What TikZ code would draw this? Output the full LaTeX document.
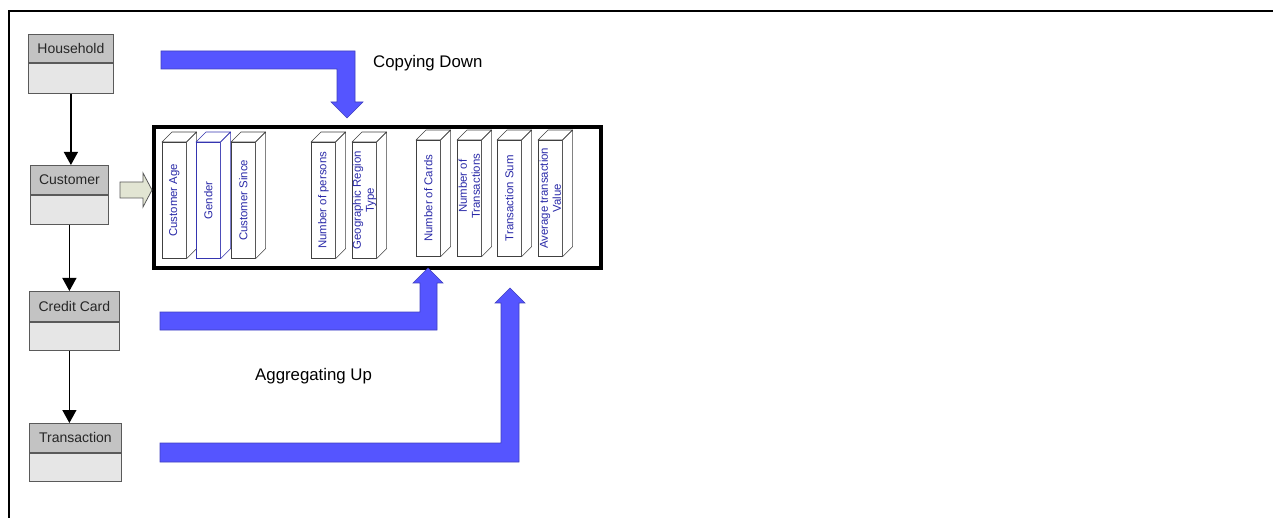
\documentclass[tikz,border=0pt]{standalone}
\usepackage{fontspec}
\setmainfont{Liberation Sans}
\usetikzlibrary{arrows.meta}

\definecolor{flowblue}{HTML}{5555FF}
\definecolor{flowedge}{HTML}{4040C0}
\definecolor{hdrgray}{HTML}{C3C3C3}
\definecolor{bodygray}{HTML}{E6E6E6}
\definecolor{boxedge}{HTML}{5A5A5A}
\definecolor{attrtext}{HTML}{2A2AA8}
\definecolor{attredge}{HTML}{3535B0}
\definecolor{khaki}{HTML}{E2E5D3}

\tikzset{
  hdr/.style={draw=boxedge, fill=hdrgray, line width=0.8pt, inner sep=0pt,
    anchor=north west, font=\fontsize{14}{16}\selectfont, text=black!85},
  bdy/.style={draw=boxedge, fill=bodygray, line width=0.8pt, inner sep=0pt,
    anchor=north west},
  flow/.style={line width=1.3pt, -{Triangle[length=13pt,width=14pt]}},
  face/.style={draw=black!75, fill=white, line width=0.6pt, inner sep=0pt,
    minimum width=24pt, minimum height=116pt, anchor=north west},
  facedge/.style={draw=black!75, fill=white, line width=0.6pt, line join=round},
  coltext/.style={rotate=90, text=attrtext, font=\fontsize{11.4}{13}\selectfont,
    align=center, inner sep=0pt},
  blockarrow/.style={fill=flowblue, draw=flowedge, line width=0.6pt, line join=miter},
  caption/.style={font=\fontsize{16.8}{19}\selectfont, anchor=west, inner sep=0pt},
}

% attribute column drawn as a 3D bar: [face options]{name}{x}{y top}{label}
\newcommand\attrcol[5][]{%
  \node[face,#1] (#2) at (#3,#4) {};
  \draw[facedge,#1] (#2.north west) -- ++(10,-10)
    -- ([shift={(10pt,10pt)}]#2.north east) -- (#2.north east) -- cycle;
  \draw[facedge,#1] (#2.north east) -- ++(10,-10)
    -- ([shift={(10pt,10pt)}]#2.south east) -- (#2.south east) -- cycle;
  \node[coltext] (#2-t) at (#2.center) {#5};
}

\begin{document}
\begin{tikzpicture}[x=1pt, y=-1pt]
\useasboundingbox (0,0) rectangle (1273,518);

% frame
\draw[line width=2.5pt] (9,518) -- (9,11) -- (1273,11);

% entity hierarchy
\node[hdr, minimum width=85pt, minimum height=28pt] (hh) at (28,34) {Household};
\node[bdy, minimum width=85pt, minimum height=30pt] (hhb) at (hh.south west) {};

\node[hdr, minimum width=78pt, minimum height=29pt] (cu) at (30,165) {Customer};
\node[bdy, minimum width=78pt, minimum height=29pt] (cub) at (cu.south west) {};

\node[hdr, minimum width=90pt, minimum height=30pt] (cc) at (29,291) {Credit Card};
\node[bdy, minimum width=90pt, minimum height=28pt] (ccb) at (cc.south west) {};

\node[hdr, minimum width=92pt, minimum height=29pt] (tr) at (29,423) {Transaction};
\node[bdy, minimum width=92pt, minimum height=28pt] (trb) at (tr.south west) {};

\draw[flow] (hhb.south) -- (hhb.south |- cu.north);
\draw[flow] (cub.south) -- (cub.south |- cc.north);
\draw[flow] (ccb.south -| cub.south) -- (cub.south |- tr.north);

% analysis record
\node[draw, line width=4pt, inner sep=0pt, anchor=north west,
      minimum width=447pt, minimum height=141pt] (mb) at (152,125) {};

\attrcol{ca}{162}{142}{Customer Age}
\attrcol[draw=attredge]{ge}{196}{142}{Gender}
\attrcol{cs}{231}{142}{Customer Since}
\attrcol{np}{311}{142}{Number of persons}
\attrcol{gr}{352}{142}{Geographic Region\\Type}
\attrcol{nc}{416}{140}{Number of Cards}
\attrcol{nt}{457}{140}{}
\node[coltext] (nt-l) at ([yshift=12pt]nt.center) {Number of\\Transactions};
\attrcol{ts}{497}{140}{Transaction Sum}
\attrcol{av}{538}{140}{Average transaction\\Value}

% customer feeds the record directly
\draw[fill=khaki, draw=black!65, line width=0.8pt, line join=miter]
  (120,182) -- (143,182) -- (143,173) -- (152,190) -- (143,207) -- (143,198)
  -- (120,198) -- cycle;

% copying down from household
\draw[blockarrow] (161,51) -- (355,51) -- (355,102) -- (363,102) -- (347,118)
  -- (331,102) -- (337,102) -- (337,69) -- (161,69) -- cycle;

% aggregating up from credit card
\draw[blockarrow] (160,312) -- (420,312) -- (420,283) -- (413,283) -- (428,268)
  -- (443,283) -- (437,283) -- (437,330) -- (160,330) -- cycle;

% aggregating up from transaction
\draw[blockarrow] (160,443) -- (501,443) -- (501,303) -- (495,303) -- (510,288)
  -- (525,303) -- (519,303) -- (519,462) -- (160,462) -- cycle;

\node[caption] (cd) at (373,63) {Copying Down};
\node[caption] (au) at (255,376) {Aggregating Up};
\end{tikzpicture}
\end{document}
